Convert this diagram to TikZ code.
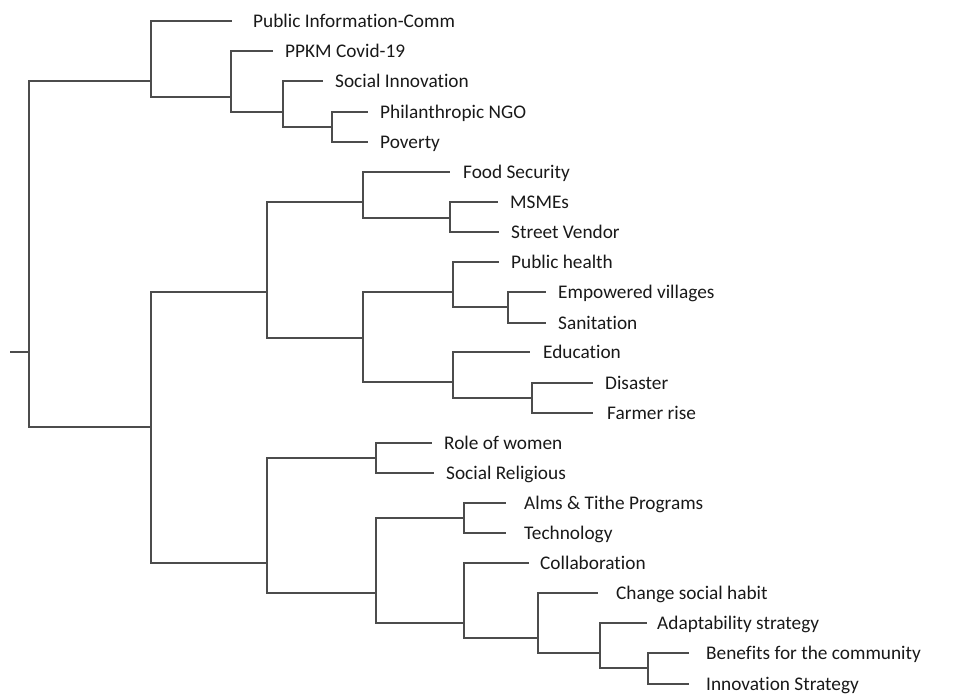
\documentclass[tikz,border=0pt]{standalone}
\usepackage{fontspec}
\setmainfont[RawFeature=-liga]{Carlito}
\usepackage{tikz}

\tikzset{
  branch/.style={draw=black!70, line width=2pt},
  leaf/.style={anchor=west, inner xsep=12pt, inner ysep=0pt, text height=12.4pt, text depth=0pt,
    font=\fontsize{19.3}{22}\selectfont, text=black!90}
}

\begin{document}
\begin{tikzpicture}[x=1pt,y=-1pt]
  \useasboundingbox (0,0) rectangle (961,696);

  % leaves
  \node[leaf, inner xsep=21pt] (pubinfo) at (232,21) {Public Information-Comm};
  \node[leaf] (ppkm) at (273,51) {PPKM Covid-19};
  \node[leaf] (socinnov) at (323,81) {Social Innovation};
  \node[leaf] (philngo) at (368,112) {Philanthropic NGO};
  \node[leaf] (poverty) at (368,142) {Poverty};
  \node[leaf, inner xsep=13pt] (foodsec) at (450,172) {Food Security};
  \node[leaf] (msmes) at (498,202) {MSMEs};
  \node[leaf] (vendor) at (499,232) {Street Vendor};
  \node[leaf] (pubhealth) at (499,262) {Public health};
  \node[leaf] (villages) at (546,292) {Empowered villages};
  \node[leaf] (sanitation) at (546,323) {Sanitation};
  \node[leaf, inner xsep=13pt] (education) at (530,352) {Education};
  \node[leaf] (disaster) at (593,383) {Disaster};
  \node[leaf, inner xsep=14pt] (farmer) at (593,413) {Farmer rise};
  \node[leaf] (women) at (432,443) {Role of women};
  \node[leaf] (religious) at (434,473) {Social Religious};
  \node[leaf, inner xsep=18pt] (alms) at (506,503) {Alms \& Tithe Programs};
  \node[leaf, inner xsep=18pt] (technology) at (506,533) {Technology};
  \node[leaf, inner xsep=11pt] (collab) at (529,563) {Collaboration};
  \node[leaf, inner xsep=18pt] (habit) at (598,593) {Change social habit};
  \node[leaf, inner xsep=10pt] (adapt) at (647,623) {Adaptability strategy};
  \node[leaf, inner xsep=17pt] (benefits) at (689,653) {Benefits for the community};
  \node[leaf, inner xsep=17pt] (innovstrat) at (689,684) {Innovation Strategy};

  % joins
  \coordinate (stub) at (10,352);
  \coordinate (root) at (29,352);
  \coordinate (c1) at (151,81);
  \coordinate (c2) at (231,97);
  \coordinate (c3) at (283,112);
  \coordinate (c4) at (332,127);
  \coordinate (c5) at (151,427);
  \coordinate (c6) at (267,292);
  \coordinate (c7) at (363,202);
  \coordinate (c8) at (450,218);
  \coordinate (c9) at (363,338);
  \coordinate (c10) at (453,292);
  \coordinate (c11) at (508,307);
  \coordinate (c12) at (453,382);
  \coordinate (c13) at (532,398);
  \coordinate (c14) at (267,563);
  \coordinate (c15) at (376,458);
  \coordinate (c16) at (376,593);
  \coordinate (c17) at (464,518);
  \coordinate (c18) at (464,623);
  \coordinate (c19) at (538,638);
  \coordinate (c20) at (600,653);
  \coordinate (c21) at (648,668);

  % branches
  \draw[branch] (stub) -- (root);
  \draw[branch] (root) |- (c1);
  \draw[branch] (root) |- (c5);

  \draw[branch] (c1) |- (pubinfo.west);
  \draw[branch] (c1) |- (c2);
  \draw[branch] (c2) |- (ppkm.west);
  \draw[branch] (c2) |- (c3);
  \draw[branch] (c3) |- (socinnov.west);
  \draw[branch] (c3) |- (c4);
  \draw[branch] (c4) |- (philngo.west);
  \draw[branch] (c4) |- (poverty.west);

  \draw[branch] (c5) |- (c6);
  \draw[branch] (c5) |- (c14);
  \draw[branch] (c6) |- (c7);
  \draw[branch] (c6) |- (c9);
  \draw[branch] (c7) |- (foodsec.west);
  \draw[branch] (c7) |- (c8);
  \draw[branch] (c8) |- (msmes.west);
  \draw[branch] (c8) |- (vendor.west);
  \draw[branch] (c9) |- (c10);
  \draw[branch] (c9) |- (c12);
  \draw[branch] (c10) |- (pubhealth.west);
  \draw[branch] (c10) |- (c11);
  \draw[branch] (c11) |- (villages.west);
  \draw[branch] (c11) |- (sanitation.west);
  \draw[branch] (c12) |- (education.west);
  \draw[branch] (c12) |- (c13);
  \draw[branch] (c13) |- (disaster.west);
  \draw[branch] (c13) |- (farmer.west);

  \draw[branch] (c14) |- (c15);
  \draw[branch] (c14) |- (c16);
  \draw[branch] (c15) |- (women.west);
  \draw[branch] (c15) |- (religious.west);
  \draw[branch] (c16) |- (c17);
  \draw[branch] (c16) |- (c18);
  \draw[branch] (c17) |- (alms.west);
  \draw[branch] (c17) |- (technology.west);
  \draw[branch] (c18) |- (collab.west);
  \draw[branch] (c18) |- (c19);
  \draw[branch] (c19) |- (habit.west);
  \draw[branch] (c19) |- (c20);
  \draw[branch] (c20) |- (adapt.west);
  \draw[branch] (c20) |- (c21);
  \draw[branch] (c21) |- (benefits.west);
  \draw[branch] (c21) |- (innovstrat.west);
\end{tikzpicture}
\end{document}
